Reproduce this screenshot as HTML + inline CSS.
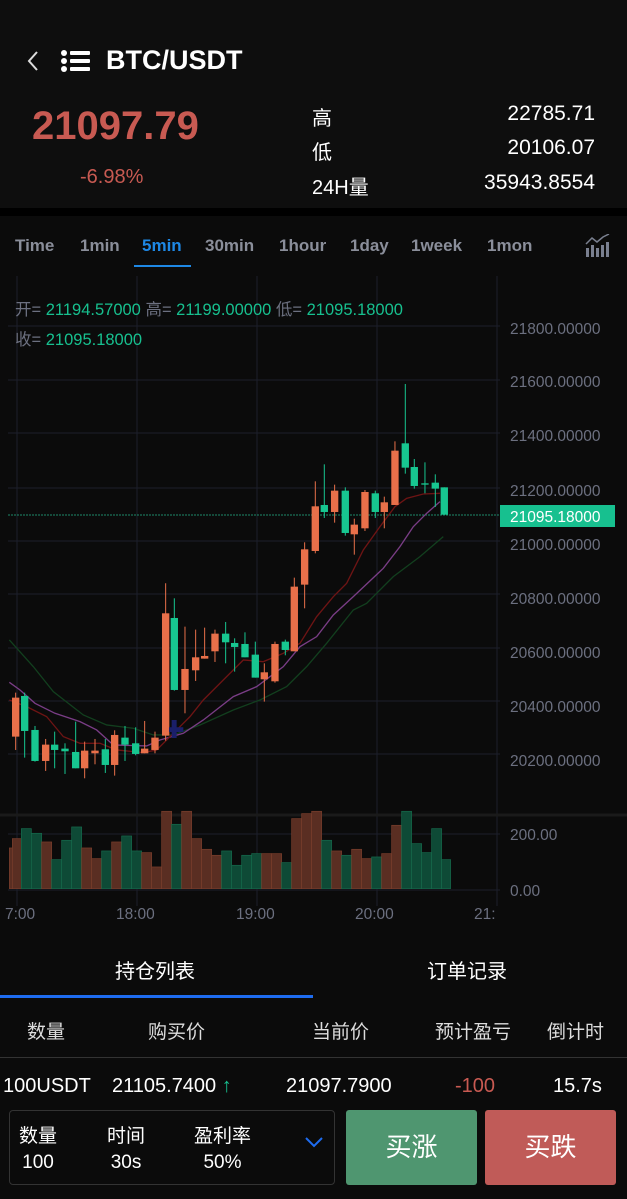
<!DOCTYPE html>
<html><head><meta charset="utf-8"><style>
body{margin:0;width:627px;height:1199px;background:#0b0b0b;overflow:hidden;font-family:"Liberation Sans","Noto Sans CJK SC",sans-serif;color:#fff;position:relative}
.a{position:absolute;white-space:nowrap}
</style></head><body>
<div class="a" style="left:0;top:0;width:627px;height:208px;background:#0e0e0e"></div>
<div class="a" style="left:0;top:208px;width:627px;height:8px;background:#000"></div>
<svg class="a" style="left:26px;top:50px" width="16" height="22"><path d="M11 2 L3 11 L11 20" stroke="#ddd" stroke-width="2" fill="none"/></svg>
<svg class="a" style="left:60px;top:49px" width="32" height="24"><g fill="#fff"><circle cx="4" cy="4" r="3"/><circle cx="4" cy="12" r="3"/><circle cx="4" cy="20" r="3"/><rect x="10" y="2" width="20" height="4" rx="1"/><rect x="10" y="10" width="20" height="4" rx="1"/><rect x="10" y="18" width="20" height="4" rx="1"/></g></svg>
<div class="a" style="left:106px;top:45px;font-size:27px;font-weight:bold">BTC/USDT</div>
<div class="a" style="left:32px;top:104px;font-size:40px;font-weight:bold;color:#c85a52">21097.79</div>
<div class="a" style="left:80px;top:166px;font-size:20px;color:#c85a52">-6.98%</div>
<div class="a" style="left:312px;top:102px;font-size:20px">高</div>
<div class="a" style="left:312px;top:136px;font-size:20px">低</div>
<div class="a" style="left:312px;top:171px;font-size:20px">24H量</div>
<div class="a" style="right:32px;top:102px;font-size:21px">22785.71</div>
<div class="a" style="right:32px;top:136px;font-size:21px">20106.07</div>
<div class="a" style="right:32px;top:171px;font-size:21px">35943.8554</div>

<div class="a" style="top:236px;left:15px;font-size:17px;font-weight:bold;color:#8a8e9a">
<span style="position:absolute;left:0">Time</span><span style="position:absolute;left:65px">1min</span><span style="position:absolute;left:127px;color:#1e88e5">5min</span><span style="position:absolute;left:190px">30min</span><span style="position:absolute;left:264px">1hour</span><span style="position:absolute;left:335px">1day</span><span style="position:absolute;left:396px">1week</span><span style="position:absolute;left:472px">1mon</span></div>
<div class="a" style="left:134px;top:265px;width:57px;height:2px;background:#1e88e5"></div>
<svg class="a" style="left:585px;top:234px" width="26" height="24"><g fill="#7a8090"><rect x="1" y="14" width="3" height="9"/><rect x="6" y="11" width="3" height="12"/><rect x="11" y="14" width="3" height="9"/><rect x="16" y="11" width="3" height="12"/><rect x="21" y="8" width="3" height="15"/></g><path d="M1 10 L7 4 L12 8 L18 3 L24 0" stroke="#7a8090" stroke-width="1.5" fill="none"/></svg>

<svg class="a" style="left:0;top:270px" width="627" height="660">
<g stroke="#1c1f2b" stroke-width="1">
<line x1="17" y1="6" x2="17" y2="636"/><line x1="137" y1="6" x2="137" y2="636"/><line x1="257" y1="6" x2="257" y2="636"/><line x1="377" y1="6" x2="377" y2="636"/><line x1="497" y1="6" x2="497" y2="636"/>
<line x1="8" y1="110" x2="500" y2="110"/><line x1="8" y1="163" x2="500" y2="163"/><line x1="8" y1="218" x2="500" y2="218"/><line x1="8" y1="271" x2="500" y2="271"/><line x1="8" y1="324" x2="500" y2="324"/><line x1="8" y1="378" x2="500" y2="378"/><line x1="8" y1="431" x2="500" y2="431"/><line x1="8" y1="484" x2="500" y2="484"/><line x1="8" y1="56" x2="500" y2="56"/>
<line x1="8" y1="564" x2="500" y2="564"/><line x1="8" y1="620" x2="500" y2="620"/>
</g>
<line x1="0" y1="545" x2="627" y2="545" stroke="#1a1a1a" stroke-width="3"/>
<g font-size="15.5" fill="#6c7080">
<text x="510" y="64">21800.00000</text><text x="510" y="117">21600.00000</text><text x="510" y="171">21400.00000</text><text x="510" y="226">21200.00000</text><text x="510" y="280">21000.00000</text><text x="510" y="334">20800.00000</text><text x="510" y="388">20600.00000</text><text x="510" y="442">20400.00000</text><text x="510" y="496">20200.00000</text><text x="510" y="570">200.00</text><text x="510" y="626">0.00</text>
<text x="5" y="649">7:00</text><text x="116" y="649">18:00</text><text x="236" y="649">19:00</text><text x="355" y="649">20:00</text><text x="474" y="649">21:</text>
</g>
<line x1="8" y1="245" x2="500" y2="245" stroke="#1d8a6a" stroke-width="1" stroke-dasharray="2,1"/>
<rect x="500" y="235" width="115" height="22" fill="#17c08f"/>
<text x="510" y="252" font-size="15.5" fill="#fff">21095.18000</text>
<g transform="translate(0,100) scale(0.3333)" id="c"></g>
</svg>
<div class="a" style="left:15px;top:296px;font-size:16.5px;color:#6c7080">开= <span style="color:#17c08f">21194.57000</span> 高= <span style="color:#17c08f">21199.00000</span> 低= <span style="color:#17c08f">21095.18000</span></div>
<div class="a" style="left:15px;top:326px;font-size:16.5px;color:#6c7080">收= <span style="color:#17c08f">21095.18000</span></div>

<div class="a" style="left:115px;top:955px;font-size:20px">持仓列表</div>
<div class="a" style="left:427px;top:955px;font-size:20px">订单记录</div>
<div class="a" style="left:0;top:995px;width:313px;height:3px;background:#1e6cf0"></div>
<div class="a" style="left:0;top:1057px;width:627px;height:1px;background:#333"></div>
<div class="a" style="top:1017px;font-size:19px;color:#ddd;left:0;width:627px">
<span style="position:absolute;left:27px">数量</span><span style="position:absolute;left:148px">购买价</span><span style="position:absolute;left:312px">当前价</span><span style="position:absolute;left:435px">预计盈亏</span><span style="position:absolute;left:547px">倒计时</span></div>
<div class="a" style="top:1075px;font-size:20px;left:0;width:627px">
<span style="position:absolute;left:3px">100USDT</span><span style="position:absolute;left:112px">21105.7400 <span style="color:#17c08f;font-weight:bold">↑</span></span><span style="position:absolute;left:286px">21097.7900</span><span style="position:absolute;left:455px;color:#c85a52">-100</span><span style="position:absolute;left:553px">15.7s</span></div>
<div class="a" style="left:9px;top:1110px;width:324px;height:73px;border:1px solid #333;border-radius:4px"></div>
<div class="a" style="left:19px;top:1124px;font-size:19px;line-height:26px;text-align:center">数量<br>100</div>
<div class="a" style="left:107px;top:1124px;font-size:19px;line-height:26px;text-align:center">时间<br>30s</div>
<div class="a" style="left:194px;top:1124px;font-size:19px;line-height:26px;text-align:center">盈利率<br>50%</div>
<svg class="a" style="left:304px;top:1135px" width="20" height="14"><path d="M2 3 L10 11 L18 3" stroke="#1e6cf0" stroke-width="2" fill="none"/></svg>
<div class="a" style="left:346px;top:1110px;width:131px;height:75px;background:#4f9670;border-radius:3px;font-size:26px;text-align:center;line-height:75px">买涨</div>
<div class="a" style="left:485px;top:1110px;width:131px;height:75px;background:#c05b58;border-radius:3px;font-size:26px;text-align:center;line-height:75px">买跌</div>
<script>
var C=[["o",983,1100,968,1140],["g",978,1083,968,1163],["g",1080,1173,1068,1175],["o",1124,1173,1107,1203],["g",1124,1140,1085,1195],["g",1136,1144,1120,1212],["g",1146,1195,1055,1195],["o",1142,1195,1115,1225],["o",1142,1150,1107,1183],["g",1138,1185,1107,1209],["o",1095,1185,1081,1217],["g",1103,1124,1068,1173],["g",1120,1152,1072,1156],["o",1136,1150,1053,1150],["o",1103,1140,1085,1150],["o",730,1097,640,1112],["g",744,960,685,962],["o",897,960,770,1030],["o",862,901,779,933],["o",858,866,773,866],["o",791,844,779,876],["g",791,817,756,880],["g",819,831,805,905],["g",822,862,787,862],["g",854,923,815,923],["o",907,928,880,995],["o",822,934,815,938],["g",815,840,809,856],["o",650,844,623,844],["o",538,644,517,715],["o",409,543,334,550],["g",405,426,283,444],["o",362,426,344,458],["g",362,489,352,497],["o",464,493,446,554],["o",366,475,360,483],["g",370,426,362,444],["o",397,426,380,475],["o",242,405,214,405],["g",220,293,42,311],["g",291,348,267,356],["g",340,342,277,370],["g",338,356,313,411],["g",352,434,352,434]];
var X=[47,74,105,137,164,195,227,254,285,316,344,375,407,434,465,497,523,555,587,614,645,677,704,735,766,793,825,856,883,914,946,973,1004,1036,1063,1095,1126,1153,1185,1216,1243,1275,1306,1333];
var V=[["o",28,37,1428],["o",37,64,1400],["g",64,94,1370],["g",94,125,1384],["o",125,155,1410],["g",155,185,1463],["g",185,215,1405],["g",215,245,1365],["o",245,275,1428],["o",275,305,1460],["g",305,335,1437],["o",335,365,1410],["g",365,395,1392],["g",395,425,1437],["o",425,455,1442],["o",455,485,1485],["o",485,515,1318],["g",515,545,1357],["o",545,575,1318],["o",575,605,1400],["o",605,635,1432],["o",635,665,1450],["g",665,695,1437],["g",695,725,1480],["g",725,755,1450],["g",755,785,1445],["o",785,815,1445],["o",815,845,1445],["g",845,875,1472],["o",875,905,1340],["o",905,935,1325],["o",935,965,1318],["g",965,995,1405],["o",995,1025,1437],["g",1025,1055,1450],["o",1055,1085,1432],["o",1085,1115,1460],["g",1115,1145,1455],["o",1145,1175,1445],["o",1175,1205,1360],["g",1205,1235,1318],["g",1235,1265,1415],["g",1265,1295,1442],["g",1295,1325,1370],["g",1325,1352,1463]];
var s='';
V.forEach(function(v){s+='<rect x="'+v[1]+'" y="'+(v[3]+6)+'" width="'+(v[2]-v[1])+'" height="'+(1556-v[3]-6)+'" fill="'+(v[0]=="o"?"#5a2e22":"#0e4a36")+'" stroke="'+(v[0]=="o"?"#7a3e2c":"#166a4c")+'" stroke-width="2"/>';});
function pl(p,c){return '<polyline fill="none" stroke="'+c+'" stroke-width="4" points="'+p+'"/>';}
s+=pl("28,810 100,890 160,965 250,1035 320,1065 400,1075 460,1095 520,1095 600,1065 700,1020 780,990 860,950 920,890 980,820 1060,720 1100,700 1180,620 1260,560 1330,500","#123f1e");
s+=pl("28,937 60,960 105,1000 165,1030 240,1055 290,1080 340,1125 440,1128 480,1110 550,1090 610,1050 700,980 770,950 850,890 900,830 950,800 1000,735 1060,680 1150,595 1200,530 1240,470 1280,430 1320,395","#7a3d86");
s+=pl("28,990 80,1010 140,1040 190,1100 240,1120 300,1120 350,1140 430,1148 470,1140 520,1090 570,1040 610,990 680,920 730,870 790,875 850,850 900,820 950,740 1000,680 1040,640 1090,540 1140,470 1185,410 1220,385 1270,372 1320,370","#6e1414");
C.forEach(function(c,i){var col=c[0]=="o"?"#e8704a":"#17c690",x=X[i];s+='<line x1="'+x+'" x2="'+x+'" y1="'+c[3]+'" y2="'+c[4]+'" stroke="'+col+'" stroke-width="3"/><rect x="'+(x-11)+'" y="'+c[1]+'" width="22" height="'+Math.max(4,c[2]-c[1])+'" fill="'+col+'"/>';});
s+='<path d="M515 1050h15v22h20v14h-20v18h-15v-18h-8v-14h8z" fill="#1a1f6a"/>';
document.getElementById('c').innerHTML=s;
</script>
</body></html>
